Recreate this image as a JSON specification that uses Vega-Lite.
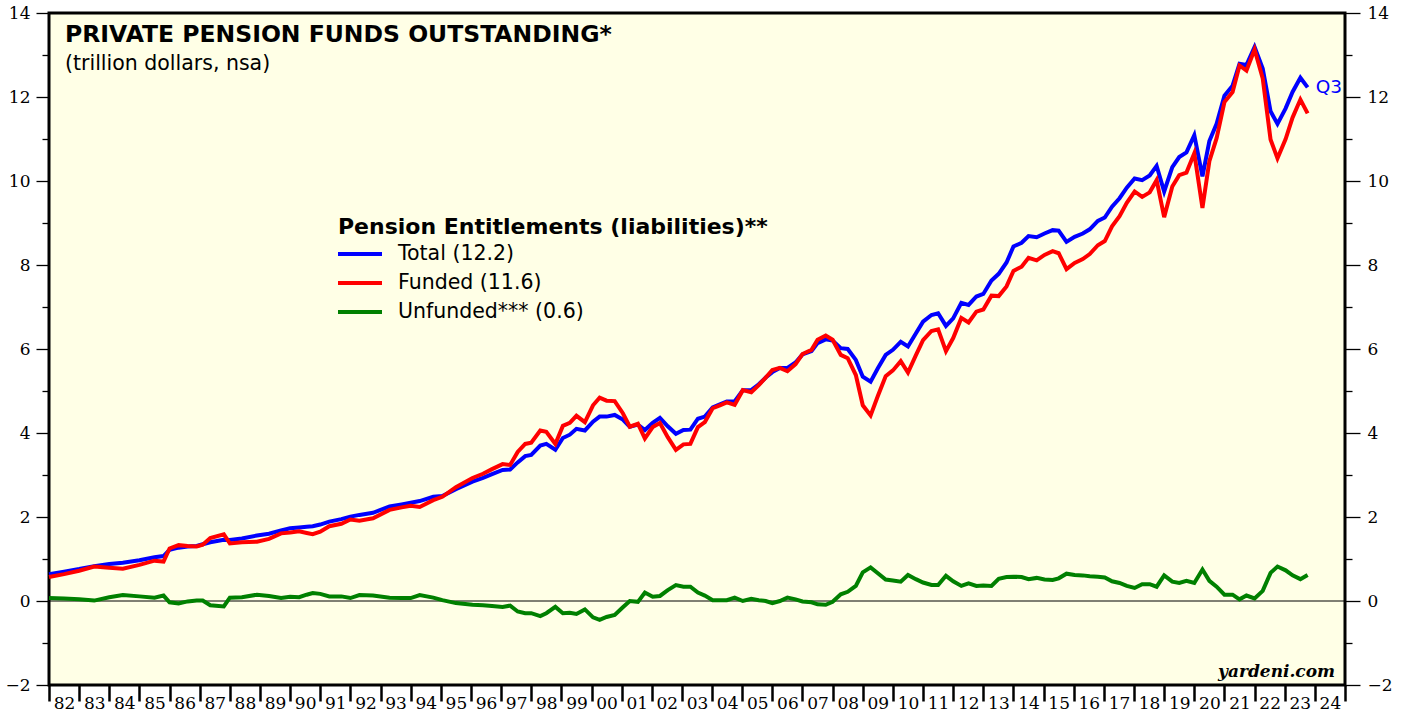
{
  "$schema": "https://vega.github.io/schema/vega-lite/v6.json",
  "width": 1296,
  "height": 672,
  "autosize": {"type": "none"},
  "padding": {"left": 49, "top": 13, "right": 60, "bottom": 32},
  "background": "white",
  "title": {
    "text": "PRIVATE PENSION FUNDS OUTSTANDING*",
    "subtitle": "(trillion dollars, nsa)",
    "anchor": "start",
    "frame": "group",
    "orient": "top",
    "offset": -70,
    "dx": 16,
    "font": "DejaVu Sans",
    "fontSize": 23.5,
    "fontWeight": "bold",
    "color": "black",
    "subtitleFont": "DejaVu Sans",
    "subtitleFontSize": 20.5,
    "subtitleColor": "black",
    "subtitlePadding": 7
  },
  "config": {
    "view": {"stroke": "black", "strokeWidth": 3, "fill": "#ffffe6"},
    "axis": {"grid": false, "domain": false, "title": null, "tickColor": "black", "labelColor": "black", "labelFont": "DejaVu Serif", "labelFontSize": 17}
  },
  "data": {
    "values": [
      {"t": 1982.0, "total": 0.64, "funded": 0.57, "unfunded": 0.07},
      {"t": 1982.5, "total": 0.70, "funded": 0.64, "unfunded": 0.06},
      {"t": 1983.0, "total": 0.76, "funded": 0.72, "unfunded": 0.04},
      {"t": 1983.5, "total": 0.83, "funded": 0.82, "unfunded": 0.01},
      {"t": 1984.0, "total": 0.88, "funded": 0.79, "unfunded": 0.09},
      {"t": 1984.45, "total": 0.91, "funded": 0.77, "unfunded": 0.14},
      {"t": 1985.0, "total": 0.97, "funded": 0.86, "unfunded": 0.11},
      {"t": 1985.5, "total": 1.04, "funded": 0.96, "unfunded": 0.08},
      {"t": 1985.8, "total": 1.07, "funded": 0.94, "unfunded": 0.13},
      {"t": 1986.0, "total": 1.22, "funded": 1.25, "unfunded": -0.03},
      {"t": 1986.3, "total": 1.27, "funded": 1.33, "unfunded": -0.06},
      {"t": 1986.6, "total": 1.30, "funded": 1.31, "unfunded": -0.01},
      {"t": 1986.9, "total": 1.31, "funded": 1.30, "unfunded": 0.01},
      {"t": 1987.1, "total": 1.35, "funded": 1.34, "unfunded": 0.01},
      {"t": 1987.35, "total": 1.40, "funded": 1.50, "unfunded": -0.10},
      {"t": 1987.8, "total": 1.46, "funded": 1.59, "unfunded": -0.13},
      {"t": 1988.0, "total": 1.45, "funded": 1.37, "unfunded": 0.08},
      {"t": 1988.4, "total": 1.49, "funded": 1.40, "unfunded": 0.09},
      {"t": 1988.9, "total": 1.56, "funded": 1.41, "unfunded": 0.15},
      {"t": 1989.3, "total": 1.60, "funded": 1.48, "unfunded": 0.12},
      {"t": 1989.7, "total": 1.68, "funded": 1.61, "unfunded": 0.07},
      {"t": 1990.0, "total": 1.73, "funded": 1.63, "unfunded": 0.10},
      {"t": 1990.3, "total": 1.75, "funded": 1.66, "unfunded": 0.09},
      {"t": 1990.55, "total": 1.77, "funded": 1.62, "unfunded": 0.15},
      {"t": 1990.75, "total": 1.78, "funded": 1.59, "unfunded": 0.19},
      {"t": 1991.0, "total": 1.82, "funded": 1.65, "unfunded": 0.17},
      {"t": 1991.3, "total": 1.89, "funded": 1.78, "unfunded": 0.11},
      {"t": 1991.7, "total": 1.95, "funded": 1.84, "unfunded": 0.11},
      {"t": 1992.0, "total": 2.01, "funded": 1.94, "unfunded": 0.07},
      {"t": 1992.3, "total": 2.05, "funded": 1.91, "unfunded": 0.14},
      {"t": 1992.75, "total": 2.10, "funded": 1.97, "unfunded": 0.13},
      {"t": 1993.3, "total": 2.25, "funded": 2.17, "unfunded": 0.08},
      {"t": 1993.7, "total": 2.30, "funded": 2.23, "unfunded": 0.07},
      {"t": 1994.0, "total": 2.34, "funded": 2.27, "unfunded": 0.07},
      {"t": 1994.3, "total": 2.38, "funded": 2.24, "unfunded": 0.14},
      {"t": 1994.75, "total": 2.48, "funded": 2.40, "unfunded": 0.08},
      {"t": 1995.05, "total": 2.50, "funded": 2.48, "unfunded": 0.02},
      {"t": 1995.5, "total": 2.66, "funded": 2.71, "unfunded": -0.05},
      {"t": 1996.05, "total": 2.84, "funded": 2.93, "unfunded": -0.09},
      {"t": 1996.4, "total": 2.93, "funded": 3.03, "unfunded": -0.10},
      {"t": 1996.7, "total": 3.02, "funded": 3.14, "unfunded": -0.12},
      {"t": 1997.05, "total": 3.12, "funded": 3.26, "unfunded": -0.14},
      {"t": 1997.3, "total": 3.13, "funded": 3.24, "unfunded": -0.11},
      {"t": 1997.55, "total": 3.30, "funded": 3.55, "unfunded": -0.25},
      {"t": 1997.8, "total": 3.45, "funded": 3.74, "unfunded": -0.29},
      {"t": 1998.0, "total": 3.48, "funded": 3.77, "unfunded": -0.29},
      {"t": 1998.3, "total": 3.70, "funded": 4.06, "unfunded": -0.36},
      {"t": 1998.5, "total": 3.74, "funded": 4.03, "unfunded": -0.29},
      {"t": 1998.8, "total": 3.60, "funded": 3.74, "unfunded": -0.14},
      {"t": 1999.05, "total": 3.88, "funded": 4.17, "unfunded": -0.29},
      {"t": 1999.28, "total": 3.96, "funded": 4.24, "unfunded": -0.28},
      {"t": 1999.5, "total": 4.10, "funded": 4.41, "unfunded": -0.31},
      {"t": 1999.78, "total": 4.06, "funded": 4.26, "unfunded": -0.20},
      {"t": 2000.05, "total": 4.27, "funded": 4.66, "unfunded": -0.39},
      {"t": 2000.27, "total": 4.39, "funded": 4.84, "unfunded": -0.45},
      {"t": 2000.5, "total": 4.39, "funded": 4.77, "unfunded": -0.38},
      {"t": 2000.77, "total": 4.43, "funded": 4.76, "unfunded": -0.33},
      {"t": 2001.04, "total": 4.32, "funded": 4.47, "unfunded": -0.15},
      {"t": 2001.27, "total": 4.15, "funded": 4.15, "unfunded": 0.00},
      {"t": 2001.54, "total": 4.20, "funded": 4.22, "unfunded": -0.02},
      {"t": 2001.77, "total": 4.07, "funded": 3.87, "unfunded": 0.20},
      {"t": 2002.03, "total": 4.24, "funded": 4.14, "unfunded": 0.10},
      {"t": 2002.27, "total": 4.36, "funded": 4.24, "unfunded": 0.12},
      {"t": 2002.53, "total": 4.16, "funded": 3.90, "unfunded": 0.26},
      {"t": 2002.8, "total": 3.98, "funded": 3.60, "unfunded": 0.38},
      {"t": 2003.05, "total": 4.07, "funded": 3.73, "unfunded": 0.34},
      {"t": 2003.28, "total": 4.08, "funded": 3.74, "unfunded": 0.34},
      {"t": 2003.53, "total": 4.34, "funded": 4.14, "unfunded": 0.20},
      {"t": 2003.76, "total": 4.39, "funded": 4.26, "unfunded": 0.13},
      {"t": 2004.02, "total": 4.61, "funded": 4.59, "unfunded": 0.02},
      {"t": 2004.26, "total": 4.68, "funded": 4.66, "unfunded": 0.02},
      {"t": 2004.49, "total": 4.75, "funded": 4.73, "unfunded": 0.02},
      {"t": 2004.75, "total": 4.75, "funded": 4.67, "unfunded": 0.08},
      {"t": 2005.02, "total": 5.02, "funded": 5.02, "unfunded": 0.00},
      {"t": 2005.3, "total": 5.02, "funded": 4.97, "unfunded": 0.05},
      {"t": 2005.55, "total": 5.16, "funded": 5.14, "unfunded": 0.02},
      {"t": 2005.78, "total": 5.32, "funded": 5.32, "unfunded": 0.00},
      {"t": 2006.0, "total": 5.45, "funded": 5.50, "unfunded": -0.05},
      {"t": 2006.25, "total": 5.55, "funded": 5.55, "unfunded": 0.00},
      {"t": 2006.5, "total": 5.55, "funded": 5.47, "unfunded": 0.08},
      {"t": 2006.77, "total": 5.68, "funded": 5.64, "unfunded": 0.04},
      {"t": 2007.0, "total": 5.87, "funded": 5.88, "unfunded": -0.01},
      {"t": 2007.3, "total": 5.95, "funded": 5.98, "unfunded": -0.03},
      {"t": 2007.5, "total": 6.14, "funded": 6.22, "unfunded": -0.08},
      {"t": 2007.77, "total": 6.23, "funded": 6.32, "unfunded": -0.09},
      {"t": 2008.0, "total": 6.20, "funded": 6.22, "unfunded": -0.02},
      {"t": 2008.27, "total": 6.02, "funded": 5.86, "unfunded": 0.16},
      {"t": 2008.5, "total": 6.00, "funded": 5.78, "unfunded": 0.22},
      {"t": 2008.77, "total": 5.74, "funded": 5.38, "unfunded": 0.36},
      {"t": 2009.0, "total": 5.34, "funded": 4.66, "unfunded": 0.68},
      {"t": 2009.26, "total": 5.22, "funded": 4.42, "unfunded": 0.80},
      {"t": 2009.5, "total": 5.54, "funded": 4.88, "unfunded": 0.66},
      {"t": 2009.76, "total": 5.86, "funded": 5.35, "unfunded": 0.51},
      {"t": 2010.0, "total": 5.98, "funded": 5.49, "unfunded": 0.49},
      {"t": 2010.26, "total": 6.17, "funded": 5.71, "unfunded": 0.46},
      {"t": 2010.5, "total": 6.06, "funded": 5.44, "unfunded": 0.62},
      {"t": 2010.76, "total": 6.37, "funded": 5.85, "unfunded": 0.52},
      {"t": 2011.0, "total": 6.65, "funded": 6.21, "unfunded": 0.44},
      {"t": 2011.28, "total": 6.81, "funded": 6.43, "unfunded": 0.38},
      {"t": 2011.5, "total": 6.85, "funded": 6.47, "unfunded": 0.38},
      {"t": 2011.76, "total": 6.55, "funded": 5.95, "unfunded": 0.60},
      {"t": 2012.0, "total": 6.73, "funded": 6.26, "unfunded": 0.47},
      {"t": 2012.27, "total": 7.10, "funded": 6.74, "unfunded": 0.36},
      {"t": 2012.51, "total": 7.05, "funded": 6.63, "unfunded": 0.42},
      {"t": 2012.77, "total": 7.25, "funded": 6.89, "unfunded": 0.36},
      {"t": 2013.0, "total": 7.31, "funded": 6.94, "unfunded": 0.37},
      {"t": 2013.27, "total": 7.63, "funded": 7.27, "unfunded": 0.36},
      {"t": 2013.51, "total": 7.79, "funded": 7.26, "unfunded": 0.53},
      {"t": 2013.77, "total": 8.06, "funded": 7.49, "unfunded": 0.57},
      {"t": 2014.0, "total": 8.44, "funded": 7.86, "unfunded": 0.58},
      {"t": 2014.27, "total": 8.53, "funded": 7.96, "unfunded": 0.57},
      {"t": 2014.5, "total": 8.69, "funded": 8.17, "unfunded": 0.52},
      {"t": 2014.77, "total": 8.66, "funded": 8.11, "unfunded": 0.55},
      {"t": 2015.03, "total": 8.75, "funded": 8.24, "unfunded": 0.51},
      {"t": 2015.3, "total": 8.83, "funded": 8.33, "unfunded": 0.50},
      {"t": 2015.5, "total": 8.82, "funded": 8.28, "unfunded": 0.54},
      {"t": 2015.76, "total": 8.55, "funded": 7.90, "unfunded": 0.65},
      {"t": 2016.03, "total": 8.67, "funded": 8.05, "unfunded": 0.62},
      {"t": 2016.3, "total": 8.75, "funded": 8.14, "unfunded": 0.61},
      {"t": 2016.53, "total": 8.85, "funded": 8.26, "unfunded": 0.59},
      {"t": 2016.8, "total": 9.05, "funded": 8.47, "unfunded": 0.58},
      {"t": 2017.03, "total": 9.13, "funded": 8.57, "unfunded": 0.56},
      {"t": 2017.27, "total": 9.39, "funded": 8.92, "unfunded": 0.47},
      {"t": 2017.52, "total": 9.59, "funded": 9.16, "unfunded": 0.43},
      {"t": 2017.76, "total": 9.84, "funded": 9.48, "unfunded": 0.36},
      {"t": 2018.02, "total": 10.06, "funded": 9.75, "unfunded": 0.31},
      {"t": 2018.27, "total": 10.02, "funded": 9.62, "unfunded": 0.40},
      {"t": 2018.52, "total": 10.13, "funded": 9.73, "unfunded": 0.40},
      {"t": 2018.75, "total": 10.36, "funded": 10.02, "unfunded": 0.34},
      {"t": 2019.0, "total": 9.75, "funded": 9.14, "unfunded": 0.61},
      {"t": 2019.27, "total": 10.33, "funded": 9.87, "unfunded": 0.46},
      {"t": 2019.5, "total": 10.57, "funded": 10.14, "unfunded": 0.43},
      {"t": 2019.74, "total": 10.68, "funded": 10.20, "unfunded": 0.48},
      {"t": 2020.0, "total": 11.09, "funded": 10.66, "unfunded": 0.43},
      {"t": 2020.27, "total": 10.11, "funded": 9.36, "unfunded": 0.75},
      {"t": 2020.5, "total": 10.95, "funded": 10.47, "unfunded": 0.48},
      {"t": 2020.74, "total": 11.36, "funded": 11.02, "unfunded": 0.34},
      {"t": 2021.0, "total": 12.03, "funded": 11.88, "unfunded": 0.15},
      {"t": 2021.27, "total": 12.27, "funded": 12.12, "unfunded": 0.15},
      {"t": 2021.5, "total": 12.79, "funded": 12.75, "unfunded": 0.04},
      {"t": 2021.73, "total": 12.76, "funded": 12.63, "unfunded": 0.13},
      {"t": 2022.0, "total": 13.19, "funded": 13.13, "unfunded": 0.06},
      {"t": 2022.27, "total": 12.68, "funded": 12.44, "unfunded": 0.24},
      {"t": 2022.53, "total": 11.66, "funded": 10.99, "unfunded": 0.67},
      {"t": 2022.76, "total": 11.36, "funded": 10.54, "unfunded": 0.82},
      {"t": 2023.03, "total": 11.73, "funded": 11.00, "unfunded": 0.73},
      {"t": 2023.26, "total": 12.12, "funded": 11.51, "unfunded": 0.61},
      {"t": 2023.52, "total": 12.46, "funded": 11.94, "unfunded": 0.52},
      {"t": 2023.76, "total": 12.23, "funded": 11.61, "unfunded": 0.62}
    ]
  },
  "resolve": {"axis": {"x": "independent", "y": "independent"}},
  "layer": [
    {
      "data": {"values": [{}]},
      "mark": {"type": "rule", "stroke": "black", "strokeWidth": 1},
      "encoding": {
        "y": {"datum": 0, "type": "quantitative", "scale": {"domain": [-2, 14], "nice": false, "zero": false},
              "axis": {"orient": "left", "values": [-1, 1, 3, 5, 7, 9, 11, 13], "labels": false, "tickSize": 7, "tickWidth": 1.3}}
      }
    },
    {
      "transform": [{"fold": ["total", "funded", "unfunded"], "as": ["series", "v"]}],
      "mark": {"type": "line", "strokeWidth": 4, "strokeJoin": "miter", "strokeCap": "butt"},
      "encoding": {
        "x": {"field": "t", "type": "quantitative", "scale": {"domain": [1982, 2025], "nice": false, "zero": false},
              "axis": {"orient": "bottom", "values": [1982,1983,1984,1985,1986,1987,1988,1989,1990,1991,1992,1993,1994,1995,1996,1997,1998,1999,2000,2001,2002,2003,2004,2005,2006,2007,2008,2009,2010,2011,2012,2013,2014,2015,2016,2017,2018,2019,2020,2021,2022,2023,2024,2025], "labels": false, "tickSize": 16, "tickWidth": 2.5}},
        "y": {"field": "v", "type": "quantitative", "scale": {"domain": [-2, 14], "nice": false, "zero": false},
              "axis": {"orient": "left", "values": [-2, 0, 2, 4, 6, 8, 10, 12, 14], "tickSize": 13, "tickWidth": 1.3, "labelPadding": 6}},
        "color": {
          "field": "series", "type": "nominal",
          "scale": {"domain": ["total", "funded", "unfunded"], "range": ["#0000ff", "#ff0000", "#008000"]},
          "legend": {
            "orient": "none", "legendX": 289, "legendY": 204, "padding": 0,
            "title": "Pension Entitlements (liabilities)**",
            "titleFont": "DejaVu Sans", "titleFontSize": 22, "titleFontWeight": "bold", "titleColor": "black", "titlePadding": 2, "titleLimit": 600,
            "labelFont": "DejaVu Sans", "labelFontSize": 20.5, "labelColor": "black", "labelOffset": 25, "labelLimit": 400,
            "labelExpr": "datum.label == 'total' ? 'Total (12.2)' : datum.label == 'funded' ? 'Funded (11.6)' : 'Unfunded*** (0.6)'",
            "symbolType": "M-2,0H2", "symbolStrokeWidth": 4, "symbolSize": 484, "symbolFillColor": "transparent", "symbolOffset": 9, "rowPadding": 5
          }
        }
      }
    },
    {
      "transform": [{"filter": "datum.t > 2023.7"}],
      "mark": {"type": "text", "text": "Q3", "color": "#0000ff", "font": "DejaVu Sans", "fontSize": 18.5, "align": "left", "baseline": "middle", "dx": 8},
      "encoding": {
        "x": {"field": "t", "type": "quantitative", "scale": {"domain": [1982, 2025], "nice": false, "zero": false},
              "axis": {"orient": "bottom", "values": [1982.5,1983.5,1984.5,1985.5,1986.5,1987.5,1988.5,1989.5,1990.5,1991.5,1992.5,1993.5,1994.5,1995.5,1996.5,1997.5,1998.5,1999.5,2000.5,2001.5,2002.5,2003.5,2004.5,2005.5,2006.5,2007.5,2008.5,2009.5,2010.5,2011.5,2012.5,2013.5,2014.5,2015.5,2016.5,2017.5,2018.5,2019.5,2020.5,2021.5,2022.5,2023.5,2024.5], "ticks": false, "labelPadding": 10, "labelOverlap": false, "labelFlush": false, "labelExpr": "substring(toString(floor(datum.value)), 2, 4)"}},
        "y": {"field": "total", "type": "quantitative", "scale": {"domain": [-2, 14], "nice": false, "zero": false},
              "axis": {"orient": "right", "values": [-2, 0, 2, 4, 6, 8, 10, 12, 14], "tickSize": 15, "tickWidth": 1.3, "labelPadding": 7}}
      }
    },
    {
      "data": {"values": [{}]},
      "mark": {"type": "text", "text": "yardeni.com", "font": "DejaVu Serif", "fontSize": 17, "fontWeight": "bold", "fontStyle": "italic", "color": "black", "align": "right", "baseline": "alphabetic"},
      "encoding": {
        "x": {"datum": 2024.67, "type": "quantitative", "scale": {"domain": [1982, 2025], "nice": false, "zero": false}, "axis": null},
        "y": {"datum": -1.81, "type": "quantitative", "scale": {"domain": [-2, 14], "nice": false, "zero": false},
              "axis": {"orient": "right", "values": [-1, 1, 3, 5, 7, 9, 11, 13], "labels": false, "tickSize": 7, "tickWidth": 1.3}}
      }
    }
  ]
}
